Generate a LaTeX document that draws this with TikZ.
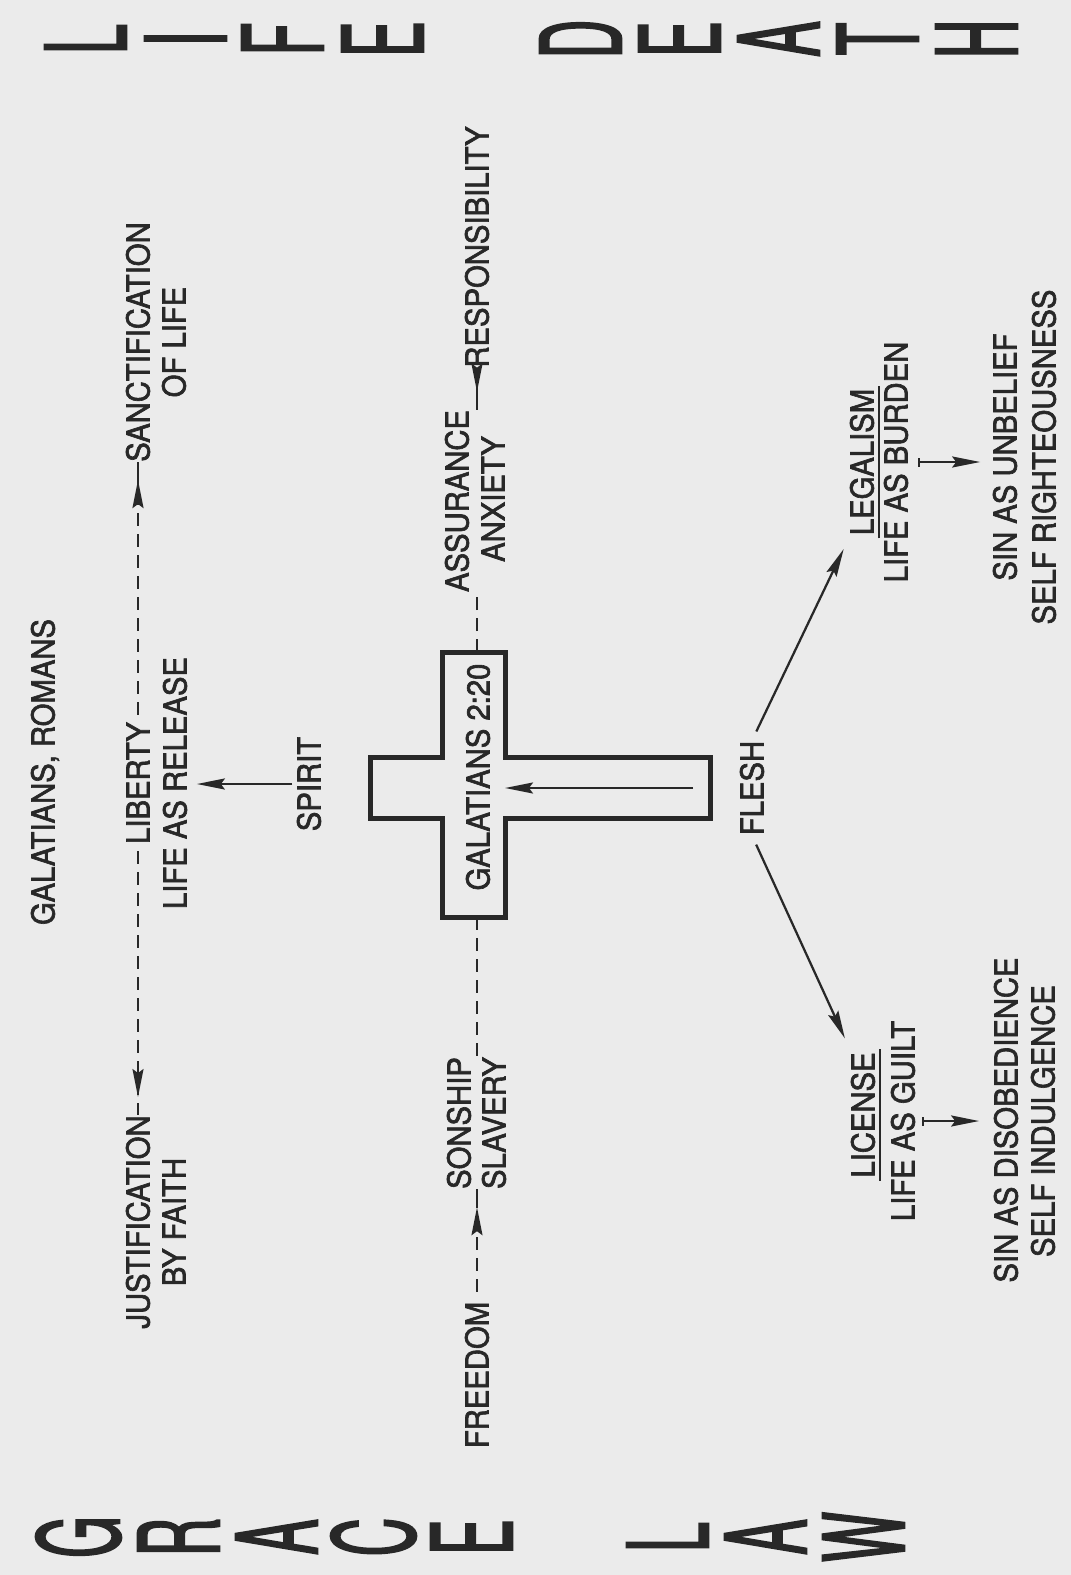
\documentclass[tikz,border=0pt]{standalone}
\usepackage{fontspec}
\usetikzlibrary{arrows.meta,decorations.markings,calc}
\newfontfamily\lblfont[FakeStretch=0.925,FakeBold=2]{TeX Gyre Heros}
\newfontfamily\bigfont[FakeStretch=0.47,FakeBold=1.6]{TeX Gyre Heros}
\definecolor{paper}{RGB}{235,235,235}
\definecolor{ink}{RGB}{40,40,40}
\tikzset{
  mytip/.tip={Stealth[length=5.6mm,width=2.2mm,inset=0.8mm]},
  lbl/.style={rotate=90,inner sep=0pt,text=ink,font=\lblfont\fontsize{18pt}{21pt}\selectfont,text height=4.6mm,text depth=0pt},
  bigl/.style={rotate=90,inner sep=0pt,text=ink,font=\bigfont\fontsize{64pt}{64pt}\selectfont,text height=16.2mm,text depth=0pt},
  arr/.style={draw=ink,line width=0.45mm,-mytip},
  tbar/.style={draw=ink,line width=0.45mm,{Bar[width=1.8mm]}-mytip},
  sline/.style={draw=ink,line width=0.45mm},
  dline/.style={draw=ink,line width=0.4mm,dash pattern=on 2.6mm off 1.6mm},
  uline/.style={draw=ink,line width=0.4mm},
  crossline/.style={draw=ink,line width=1mm,line join=miter},
  midtip/.style={postaction={decorate,decoration={markings,
      mark=at position -#1 with {\arrow{mytip}\draw[solid,draw=ink,line width=0.45mm] (0,0) -- (#1,0);}}}}
}
\begin{document}
\begin{tikzpicture}[x=0.2mm,y=-0.2mm]
\fill[paper] (0,0) rectangle (1071,1575);
\useasboundingbox (0,0) rectangle (1071,1575);

% big letters
\foreach \ch/\xx [count=\i] in {L/86,I/186,F/283,E/383,D/581,E/680,A/779,T/878,H/977}
  {\node[bigl] (top\i) at (\xx,39) {\ch};}
\foreach \ch/\xx [count=\i] in {G/79,R/179,A/277,C/374,E/472,L/668,A/766,W/864}
  {\node[bigl] (bot\i) at (\xx,1537) {\ch};}

% labels
\node[lbl] (GAL) at (43,772) {GALATIANS, ROMANS};
\node[lbl] (SAN) at (138,342) {SANCTIFICATION};
\node[lbl] (OFL) at (174,342) {OF LIFE};
\node[lbl] (LIB) at (138,783) {LIBERTY};
\node[lbl] (REL) at (175,783) {LIFE AS RELEASE};
\node[lbl] (JUS) at (138,1222) {JUSTIFICATION};
\node[lbl] (BYF) at (174,1222) {BY FAITH};
\node[lbl] (SPI) at (309,784) {SPIRIT};
\node[lbl] (RES) at (477,247) {RESPONSIBILITY};
\node[lbl] (ASS) at (457,501) {ASSURANCE};
\node[lbl] (ANX) at (493,499) {ANXIETY};
\node[lbl] (SON) at (459,1123) {SONSHIP};
\node[lbl] (SLA) at (494,1123) {SLAVERY};
\node[lbl] (FRE) at (477,1375) {FREEDOM};
\node[lbl] (FLE) at (752,788) {FLESH};
\node[lbl] (LEG) at (862,462) {LEGALISM};
\node[lbl] (BUR) at (896,462) {LIFE AS BURDEN};
\node[lbl] (UNB) at (1005,457) {SIN AS UNBELIEF};
\node[lbl] (SRI) at (1044,457) {SELF RIGHTEOUSNESS};
\node[lbl] (LIC) at (863,1115) {LICENSE};
\node[lbl] (GUI) at (903,1121) {LIFE AS GUILT};
\node[lbl] (DIS) at (1006,1120) {SIN AS DISOBEDIENCE};
\node[lbl] (IND) at (1043,1121) {SELF INDULGENCE};

% cross
\draw[crossline] (370,757) -- (370,818) -- (442,818) -- (442,917) -- (505,917) -- (505,818)
  -- (710,818) -- (710,757) -- (505,757) -- (505,652) -- (442,652) -- (442,757) -- cycle;
\node[lbl] (G220) at (478,777) {GALATIANS 2:20};
\coordinate (crossT) at (477,652);
\coordinate (crossB) at (477,917);
\coordinate (ctail) at (693,788);
\coordinate (ctip) at (505,788);
\draw[arr] (ctail) -- (ctip);

% underlines
\draw[uline] ([xshift=1mm,yshift=-0.6mm]LEG.south west) -- ([xshift=1mm,yshift=0.6mm]LEG.south east);
\draw[uline] ([xshift=1mm,yshift=-0.6mm]LIC.south west) -- ([xshift=1mm,yshift=0.6mm]LIC.south east);

% connectors
\draw[dline,midtip=3.6mm,shorten <=1.4mm] (LIB.east) -- (SAN.west);
\draw[dline,midtip=3.6mm,shorten <=1.4mm] (LIB.west) -- (JUS.east);
\draw[arr,shorten <=1mm,shorten >=2mm] (SPI.north) -- (SPI.north -| REL.south);
\draw[sline,midtip=3.6mm] (RES.west) -- (RES.west |- ASS.east);
\draw[dline] (crossT) -- (crossT |- ASS.west);
\draw[dline] (crossB) -- (crossB |- SON.east);
\draw[dline,midtip=3.6mm,shorten <=2mm] (FRE.east) -- (FRE.east |- SON.west);
\draw[arr,shorten <=2mm,shorten >=3mm] (FLE.east) -- (LEG.north west);
\draw[arr,shorten <=2mm,shorten >=3mm] (FLE.west) -- (LIC.north east);
\draw[tbar,shorten <=2mm,shorten >=2.6mm] (BUR.south) -- (BUR.south -| UNB.north);
\draw[tbar,shorten <=1.4mm,shorten >=3mm] (GUI.south) -- (GUI.south -| DIS.north);
\end{tikzpicture}
\end{document}
